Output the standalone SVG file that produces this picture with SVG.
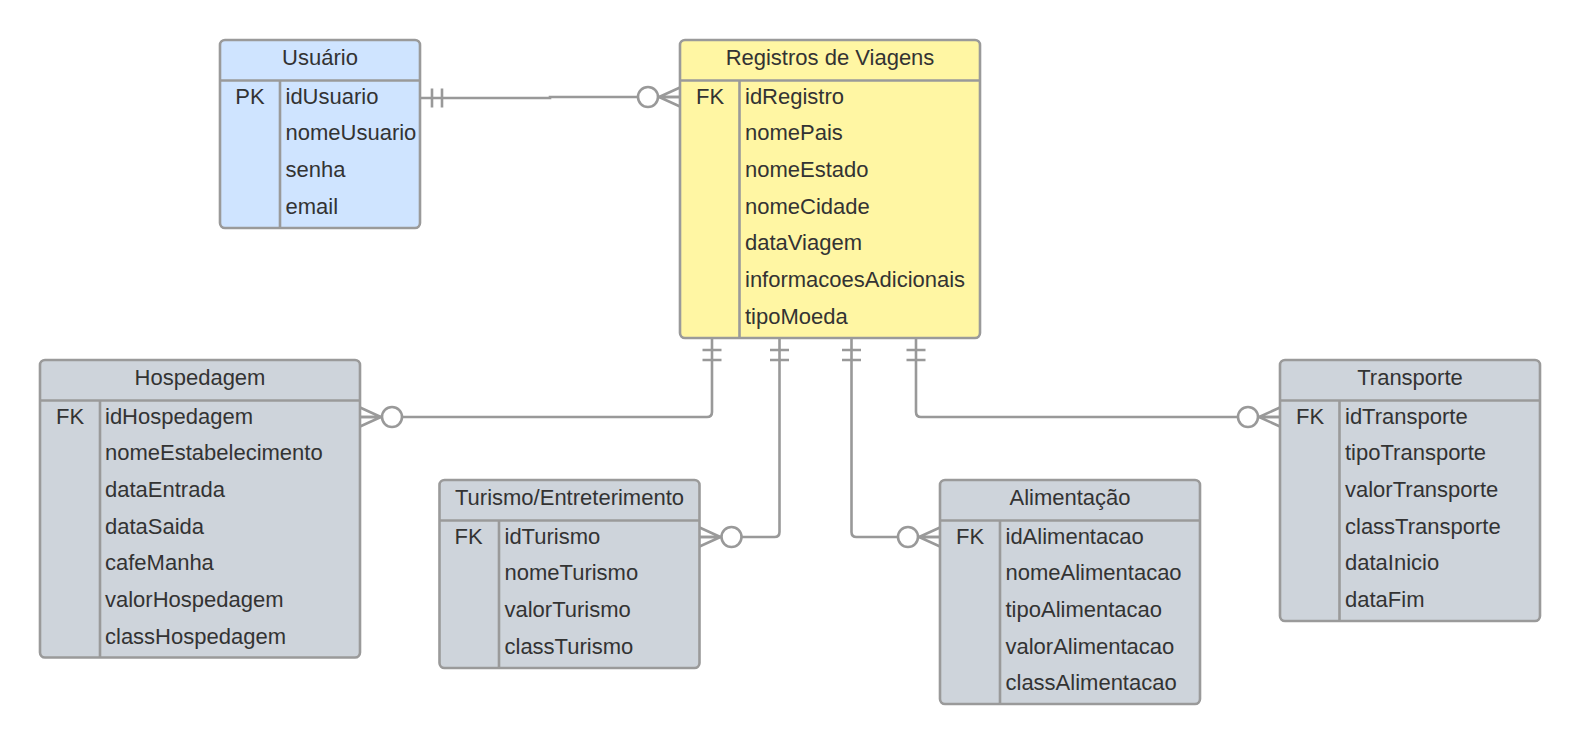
<svg xmlns="http://www.w3.org/2000/svg" width="1580" height="745" viewBox="0 0 1580 745">
<style>
.box{stroke:#9a9a9a;stroke-width:2.6}
.div{stroke:#9a9a9a;stroke-width:2.6;fill:none}
.blue{fill:#cfe4ff}
.yellow{fill:#fff6a3}
.grey{fill:#ced4db}
text{font-family:"Liberation Sans",Arial,sans-serif;font-size:22px;fill:#333333}
.t{text-anchor:middle}
.k{text-anchor:middle}
.conn{fill:none;stroke:#999999;stroke-width:2.6}
.mk{fill:none;stroke:#999999;stroke-width:2.6}
</style>
<defs>
<marker id="one" markerUnits="userSpaceOnUse" viewBox="-50 -15 55 30" markerWidth="55" markerHeight="30" refX="0" refY="0" orient="auto-start-reverse" overflow="visible">
<path class="mk" d="M-12,-9.5 V9.5 M-22,-9.5 V9.5"/>
</marker>
<marker id="many" markerUnits="userSpaceOnUse" viewBox="-50 -15 55 30" markerWidth="55" markerHeight="30" refX="0" refY="0" orient="auto-start-reverse" overflow="visible">
<path class="mk" d="M0,-9.5 L-21,0 L0,9.5 M-21,0 H0"/>
<circle cx="-32" cy="0" r="10" fill="#ffffff" stroke="#999999" stroke-width="2.6"/>
</marker>
</defs>
<rect width="1580" height="745" fill="#ffffff"/>

<g id="connectors">
<path class="conn" d="M420,98 H550 V97 H680" marker-start="url(#one)" marker-end="url(#many)"/>
<path class="conn" d="M712,338 V412 Q712,417 707,417 H360" marker-start="url(#one)" marker-end="url(#many)"/>
<path class="conn" d="M779.5,338 V532 Q779.5,537 774.5,537 H699.5" marker-start="url(#one)" marker-end="url(#many)"/>
<path class="conn" d="M851.5,338 V532 Q851.5,537 856.5,537 H940" marker-start="url(#one)" marker-end="url(#many)"/>
<path class="conn" d="M916,338 V412 Q916,417 921,417 H1280" marker-start="url(#one)" marker-end="url(#many)"/>
</g>

<g id="usuario">
<rect class="box blue" x="220" y="40" width="200" height="188" rx="5"/>
<path class="div" d="M220,80.5 H420 M280,80.5 V228"/>
<text class="t" x="320" y="64.5">Usuário</text>
<text class="k" x="250" y="103.5">PK</text>
<text x="285.5" y="103.5">idUsuario</text>
<text x="285.5" y="140.2">nomeUsuario</text>
<text x="285.5" y="176.9">senha</text>
<text x="285.5" y="213.5">email</text>
</g>

<g id="registros">
<rect class="box yellow" x="680" y="40" width="300" height="298" rx="5"/>
<path class="div" d="M680,80.5 H980 M739.5,80.5 V338"/>
<text class="t" x="830" y="64.5">Registros de Viagens</text>
<text class="k" x="710" y="103.5">FK</text>
<text x="745" y="103.5">idRegistro</text>
<text x="745" y="140.2">nomePais</text>
<text x="745" y="176.9">nomeEstado</text>
<text x="745" y="213.5">nomeCidade</text>
<text x="745" y="250.2">dataViagem</text>
<text x="745" y="286.9">informacoesAdicionais</text>
<text x="745" y="323.5">tipoMoeda</text>
</g>

<g id="hospedagem">
<rect class="box grey" x="40" y="360" width="320" height="297.5" rx="5"/>
<path class="div" d="M40,400.5 H360 M100,400.5 V657.5"/>
<text class="t" x="200" y="384.5">Hospedagem</text>
<text class="k" x="70" y="423.5">FK</text>
<text x="105" y="423.5">idHospedagem</text>
<text x="105" y="460.2">nomeEstabelecimento</text>
<text x="105" y="496.9">dataEntrada</text>
<text x="105" y="533.5">dataSaida</text>
<text x="105" y="570.2">cafeManha</text>
<text x="105" y="606.9">valorHospedagem</text>
<text x="105" y="643.5">classHospedagem</text>
</g>

<g id="turismo">
<rect class="box grey" x="439.5" y="480" width="260" height="188" rx="5"/>
<path class="div" d="M439.5,520.5 H699.5 M499,520.5 V668"/>
<text class="t" x="569.5" y="504.5">Turismo/Entreterimento</text>
<text class="k" x="468.5" y="543.5">FK</text>
<text x="504.5" y="543.5">idTurismo</text>
<text x="504.5" y="580.2">nomeTurismo</text>
<text x="504.5" y="616.9">valorTurismo</text>
<text x="504.5" y="653.5">classTurismo</text>
</g>

<g id="alimentacao">
<rect class="box grey" x="940" y="480" width="260" height="224" rx="5"/>
<path class="div" d="M940,520.5 H1200 M1000,520.5 V704"/>
<text class="t" x="1070" y="504.5">Alimentação</text>
<text class="k" x="970" y="543.5">FK</text>
<text x="1005.5" y="543.5">idAlimentacao</text>
<text x="1005.5" y="580.2">nomeAlimentacao</text>
<text x="1005.5" y="616.9">tipoAlimentacao</text>
<text x="1005.5" y="653.5">valorAlimentacao</text>
<text x="1005.5" y="690.2">classAlimentacao</text>
</g>

<g id="transporte">
<rect class="box grey" x="1280" y="360" width="260" height="261" rx="5"/>
<path class="div" d="M1280,400.5 H1540 M1339.5,400.5 V621"/>
<text class="t" x="1410" y="384.5">Transporte</text>
<text class="k" x="1310" y="423.5">FK</text>
<text x="1345" y="423.5">idTransporte</text>
<text x="1345" y="460.2">tipoTransporte</text>
<text x="1345" y="496.9">valorTransporte</text>
<text x="1345" y="533.5">classTransporte</text>
<text x="1345" y="570.2">dataInicio</text>
<text x="1345" y="606.9">dataFim</text>
</g>
</svg>
